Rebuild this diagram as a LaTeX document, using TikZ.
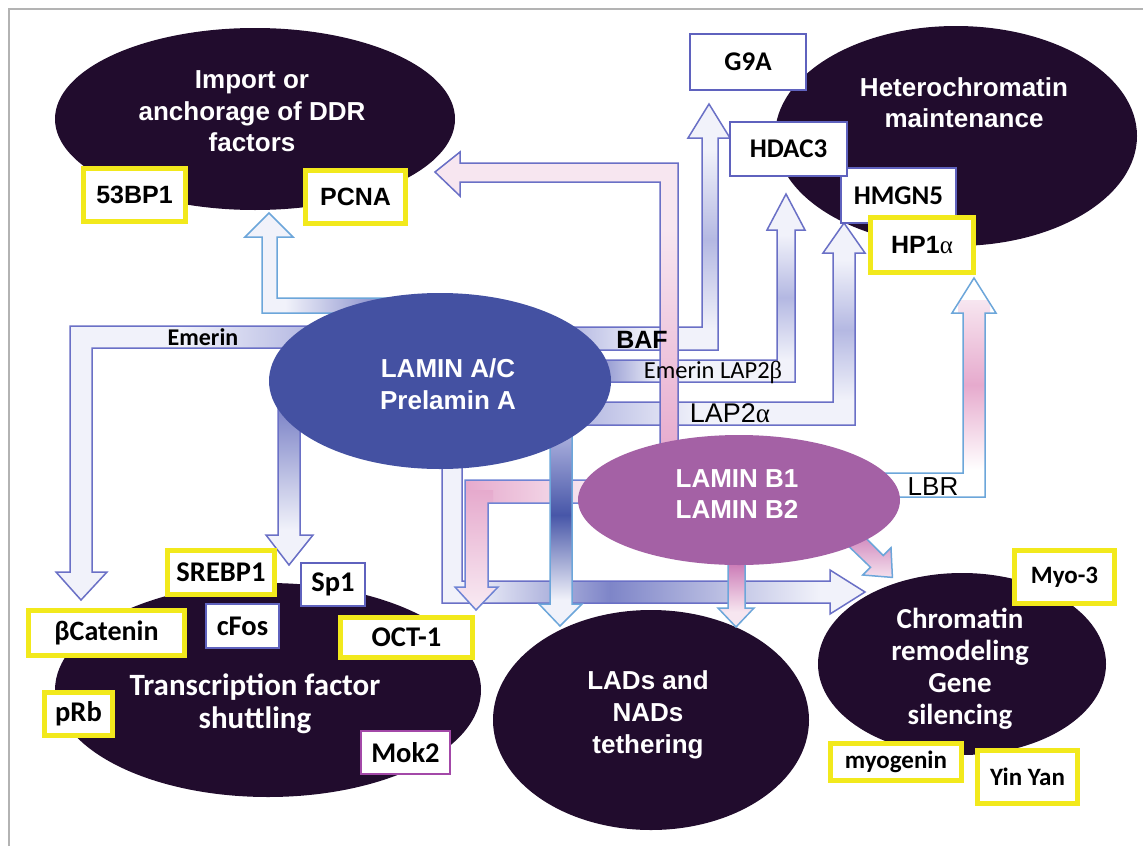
\documentclass[tikz,border=0pt]{standalone}
\usepackage{fontspec}
\setmainfont{Liberation Sans}
\newfontfamily\arial{Liberation Sans}
\newfontfamily\calib{Carlito}
\newfontfamily\tms{Liberation Serif}
\usetikzlibrary{shapes.geometric}
\definecolor{dark}{HTML}{210C2D}
\definecolor{lamA}{HTML}{4451A2}
\definecolor{lamB}{HTML}{A461A5}
\definecolor{yel}{HTML}{F2E91C}
\definecolor{bbord}{HTML}{5F62BE}
\definecolor{mbord}{HTML}{A348A8}
\definecolor{olp}{HTML}{6A70C6}
\definecolor{olp2}{HTML}{6F84D4}
\definecolor{olb}{HTML}{6CA6DA}
\definecolor{lw}{HTML}{F1F2FA}
\definecolor{lv}{HTML}{B4B8E2}
\definecolor{lvd}{HTML}{7E85C8}
\definecolor{bd}{HTML}{4756A8}
\definecolor{pl}{HTML}{F7E6F0}
\definecolor{pm}{HTML}{E6AACD}
\definecolor{pd}{HTML}{C873B2}
\definecolor{framec}{HTML}{B3B3B3}
\newcommand\ArB[2]{\arial\bfseries\fontsize{#1pt}{#2pt}\selectfont}
\newcommand\ArR[2]{\arial\fontsize{#1pt}{#2pt}\selectfont}
\newcommand\CaB[2]{\calib\bfseries\fontsize{#1pt}{#2pt}\selectfont}
\newcommand\CaR[2]{\calib\fontsize{#1pt}{#2pt}\selectfont}
\newcommand\blockarrow[3]{\begin{scope}\clip #1;#2\end{scope}\draw[#3,line width=1.5pt,line join=miter] #1;}
\begin{document}
\begin{tikzpicture}[x=1pt,y=-1pt,
  elltxt/.style={text=white, align=center, inner sep=0pt},
  ybox/.style={draw=yel, line width=5pt, fill=white, inner sep=0pt, text=black},
  bbox/.style={draw=bbord, line width=2pt, fill=white, inner sep=0pt, text=black},
  ell/.style={ellipse, inner sep=0pt},
  lbl/.style={inner sep=0pt, text=black, anchor=base}]
\useasboundingbox (0,0) rectangle (1143,846);
\fill[white] (0,0) rectangle (1143,846);
\draw[framec, line width=2pt] (9,846) -- (9,9) -- (1143,9);

% dark outcome ellipses
\node[ell, fill=dark, minimum width=400pt, minimum height=182pt] (ddr) at (255,119) {};
\node[ell, fill=dark, minimum width=362pt, minimum height=220pt] (het) at (956,136) {};
\node[ell, fill=dark, minimum width=426pt, minimum height=214pt] (tfs) at (268,690) {};
\node[ell, fill=dark, minimum width=316pt, minimum height=220pt] (lads) at (651,720) {};
\node[ell, fill=dark, minimum width=288pt, minimum height=182pt] (chr) at (962,664) {};

% block arrows
\blockarrow{(400,298) -- (277,298) -- (277,237) -- (293,237) -- (269,213) -- (245,237) -- (262,237) -- (262,313) -- (400,313) -- cycle}{\fill[lw] (240,205) rectangle (405,320); \shade[left color=lw, right color=lvd] (285,295) rectangle (390,316);}{olb}
\blockarrow{(310,326) -- (70,326) -- (70,572) -- (56,572) -- (81,600) -- (107,572) -- (92,572) -- (92,348) -- (310,348) -- cycle}{\fill[lw] (50,320) rectangle (315,605); \shade[left color=lw, right color=lv] (180,322) rectangle (310,352);}{olp}
\blockarrow{(278,405) -- (278,535) -- (266,535) -- (289,565) -- (313,535) -- (300,535) -- (300,405) -- cycle}{\fill[lw] (260,400) rectangle (320,570); \shade[top color=lvd, bottom color=lw] (260,410) rectangle (320,530);}{olp}
\blockarrow{(570,327) -- (702,327) -- (702,138) -- (688,138) -- (709,104) -- (730,138) -- (718,138) -- (718,350) -- (570,350) -- cycle}{\fill[lw] (565,100) rectangle (735,355); \shade[top color=lw, bottom color=lw, middle color=lv] (698,150) rectangle (722,330); \shade[left color=lv, right color=lw] (570,325) rectangle (650,352);}{olp}
\blockarrow{(590,360) -- (777,360) -- (777,230) -- (767,230) -- (786,194) -- (805,230) -- (795,230) -- (795,382) -- (590,382) -- cycle}{\fill[lw] (585,190) rectangle (810,385); \shade[top color=lw, bottom color=lw, middle color=lv] (773,235) rectangle (799,360); \shade[left color=lvd, right color=lw] (590,358) rectangle (660,384);}{olp}
\blockarrow{(580,402) -- (833,402) -- (833,253) -- (823,253) -- (844,223) -- (865,253) -- (855,253) -- (855,425) -- (580,425) -- cycle}{\fill[lw] (575,220) rectangle (870,428); \shade[top color=lw, bottom color=lw, middle color=lv] (830,260) rectangle (858,400); \shade[left color=lv, right color=lw] (580,400) rectangle (700,427);}{olp}
\blockarrow{(442,455) -- (442,603) -- (830,603) -- (830,614) -- (865,592) -- (830,570) -- (830,581) -- (462,581) -- (462,455) -- cycle}{\fill[lw] (440,450) rectangle (868,616); \shade[left color=lw, right color=lvd] (470,578) rectangle (610,606); \shade[left color=lvd, right color=lw] (610,578) rectangle (820,606);}{olp}
\blockarrow{(660,455) -- (660,182) -- (460,182) -- (460,196) -- (435,172) -- (460,152) -- (460,163) -- (678,163) -- (678,455) -- cycle}{\fill[pl] (430,150) rectangle (682,458); \shade[top color=pl, bottom color=pm] (655,230) rectangle (682,458);}{olp}
\blockarrow{(880,473) -- (963,473) -- (963,313) -- (952,313) -- (974,278) -- (996,313) -- (985,313) -- (985,497) -- (880,497) -- cycle}{\fill[white] (875,275) rectangle (1000,500); \shade[top color=pl, bottom color=white, middle color=pm] (958,300) rectangle (990,470);}{olb}
\blockarrow{(600,480) -- (465,480) -- (465,587) -- (455,587) -- (476,610) -- (498,587) -- (488,587) -- (488,503) -- (600,503) -- cycle}{\fill[pl] (450,475) rectangle (605,612); \shade[left color=pm, right color=pl] (465,476) rectangle (590,507); \shade[top color=pm, bottom color=pl] (460,490) rectangle (493,600);}{olp2}
\blockarrow{(550,430) -- (550,604) -- (539,604) -- (560,626) -- (582,604) -- (572,604) -- (572,430) -- cycle}{\shade[top color=lv, bottom color=bd] (535,428) rectangle (585,515); \shade[top color=bd, bottom color=lw] (535,515) rectangle (585,600); \fill[lw] (535,600) rectangle (585,630);}{olb}
\blockarrow{(728,550) -- (728,608) -- (718,608) -- (736,627) -- (754,608) -- (745,608) -- (745,550) -- cycle}{\fill[pl] (715,548) rectangle (757,630); \shade[top color=pd, bottom color=pl] (715,560) rectangle (757,612);}{olb}
\blockarrow{(856.4,528.6) -- (883.2,555.5) -- (891.0,547.7) -- (892.4,577.4) -- (862.7,575.0) -- (870.5,567.3) -- (843.6,541.4) -- cycle}{\shade[top color=pd, bottom color=pl] (840,525) rectangle (895,580);}{olb}

% lamin ellipses
\node[ell, fill=lamA, minimum width=342pt, minimum height=176pt] (lamA) at (440,381) {};
\node[ell, fill=lamB, minimum width=322pt, minimum height=130pt] (lamB) at (739,500) {};

% ellipse texts
\node[elltxt, font=\ArB{26}{31.5}] (ddrt) at (252,111.5) {Import or\\anchorage of DDR\\factors};
\node[elltxt, font=\ArB{26}{31}] (hett) at (964,102.5) {Heterochromatin\\maintenance};
\node[elltxt, font=\ArB{26}{32}] (lamAt) at (448,384) {LAMIN A/C\\Prelamin A};
\node[elltxt, font=\ArB{26}{31}] (lamBt) at (737,494.5) {LAMIN B1\\LAMIN B2};
\node[elltxt, font=\CaB{31}{33}] (tfst) at (255,703.5) {Transcription factor\\shuttling};
\node[elltxt, font=\ArB{26}{32}] (ladst) at (648,715) {LADs and\\NADs\\tethering};
\node[elltxt, font=\CaB{29}{32}] (chrt) at (960,669) {Chromatin\\remodeling\\Gene\\silencing};

% boxes
\node[ybox, minimum width=102pt, minimum height=53pt, font=\ArB{25}{30}] (b53) at (134.5,195) {53BP1};
\node[ybox, minimum width=100pt, minimum height=53pt, font=\ArB{25}{30}] (pcna) at (355.5,197) {PCNA};
\node[bbox, minimum width=116pt, minimum height=56pt, font=\CaB{27}{30}] (g9a) at (748,62) {G9A};
\node[bbox, minimum width=115pt, minimum height=55pt, font=\CaB{27}{30}] (hmgn) at (898.5,195.5) {HMGN5};
\node[bbox, minimum width=117pt, minimum height=54pt, font=\CaB{27}{30}] (hdac) at (788.5,149) {HDAC3};
\node[ybox, minimum width=103pt, minimum height=55pt, font=\ArB{25}{30}] (hp1) at (922,245) {HP1{\tms\mdseries α}};
\node[ybox, minimum width=107pt, minimum height=44pt, font=\CaB{28.5}{30}] (srebp) at (221,572.5) {SREBP1};
\node[bbox, minimum width=64pt, minimum height=43pt, font=\CaB{28.5}{30}] (sp1) at (333,584.5) {Sp1};
\node[ybox, minimum width=156pt, minimum height=45pt, font=\CaB{28}{30}] (bcat) at (106.5,633) {βCatenin};
\node[bbox, minimum width=73pt, minimum height=44pt, font=\CaB{28.5}{30}] (cfos) at (242.5,626) {cFos};
\node[ybox, minimum width=132pt, minimum height=40pt, font=\CaB{28.5}{30}] (oct) at (406.5,637.5) {OCT-1};
\node[ybox, minimum width=68pt, minimum height=43pt, font=\CaB{28.5}{30}] (prb) at (78.5,714) {pRb};
\node[bbox, draw=mbord, minimum width=89pt, minimum height=43pt, font=\CaB{28.5}{30}] (mok) at (405.5,752.5) {Mok2};
\node[ybox, minimum width=100pt, minimum height=53pt, font=\CaB{25}{30}] (myo) at (1064.5,577) {Myo-3};
\node[ybox, minimum width=131pt, minimum height=37pt, font=\CaB{25}{30}] (myog) at (896,762) {myogenin};
\node[ybox, minimum width=100pt, minimum height=53pt, font=\CaB{25}{30}] (yy) at (1027.5,777) {Yin Yan};

% arrow labels
\node[lbl, font=\CaB{24}{28}] (lemerin) at (203,345) {Emerin};
\node[lbl, font=\ArB{25}{30}] (lbaf) at (642,348) {BAF};
\node[lbl, font=\CaR{24.5}{28}] (llap2b) at (713,378) {Emerin LAP2{\tms β}};
\node[lbl, font=\ArR{27}{30}] (llap2a) at (730,422) {LAP2{\tms α}};
\node[lbl, font=\ArR{26}{30}] (llbr) at (933,495) {LBR};
\end{tikzpicture}
\end{document}
